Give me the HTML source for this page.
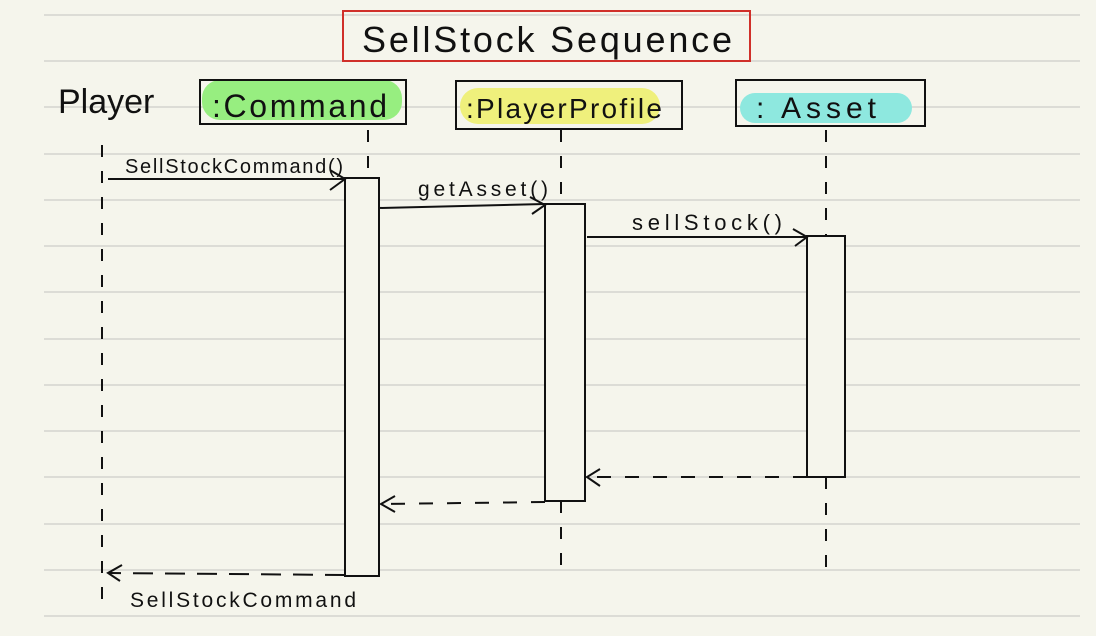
<!DOCTYPE html>
<html><head><style>
html,body{margin:0;padding:0;background:#f5f5ec;}
svg{display:block}
text{font-family:"Liberation Sans",sans-serif;fill:#111}
</style></head><body>
<svg width="1096" height="636" viewBox="0 0 1096 636" xmlns="http://www.w3.org/2000/svg">
<rect width="1096" height="636" fill="#f5f5ec"/>
<g stroke="#dcdcd6" stroke-width="2">
<line x1="44" y1="15" x2="1080" y2="15"/>
<line x1="44" y1="61" x2="1080" y2="61"/>
<line x1="44" y1="107" x2="1080" y2="107"/>
<line x1="44" y1="154" x2="1080" y2="154"/>
<line x1="44" y1="200" x2="1080" y2="200"/>
<line x1="44" y1="246" x2="1080" y2="246"/>
<line x1="44" y1="292" x2="1080" y2="292"/>
<line x1="44" y1="339" x2="1080" y2="339"/>
<line x1="44" y1="385" x2="1080" y2="385"/>
<line x1="44" y1="431" x2="1080" y2="431"/>
<line x1="44" y1="477" x2="1080" y2="477"/>
<line x1="44" y1="524" x2="1080" y2="524"/>
<line x1="44" y1="570" x2="1080" y2="570"/>
<line x1="44" y1="616" x2="1080" y2="616"/>
</g>
<!-- title -->
<rect x="343" y="11" width="407" height="50" fill="none" stroke="#d0302a" stroke-width="2"/>
<text x="362" y="52" font-size="36" textLength="370">SellStock Sequence</text>
<!-- Player -->
<text x="58" y="113" font-size="34">Player</text>
<!-- Command -->
<rect x="202" y="80" width="200" height="40" rx="18" fill="#97ee80"/>
<rect x="200" y="80" width="206" height="44" fill="none" stroke="#111" stroke-width="2"/>
<text x="212" y="117" font-size="32" textLength="175">:Command</text>
<!-- PlayerProfile -->
<rect x="460" y="88" width="200" height="36" rx="18" fill="#eff07c"/>
<rect x="456" y="81" width="226" height="48" fill="none" stroke="#111" stroke-width="2"/>
<text x="466" y="118" font-size="28" textLength="196">:PlayerProfile</text>
<!-- Asset -->
<rect x="740" y="93" width="172" height="30" rx="15" fill="#8ee8df"/>
<rect x="736" y="80" width="189" height="46" fill="none" stroke="#111" stroke-width="2"/>
<text x="756" y="118" font-size="30" textLength="120">: Asset</text>
<!-- lifelines -->
<g stroke="#111" stroke-width="2" stroke-dasharray="12 14" fill="none">
<line x1="102" y1="145" x2="102" y2="600"/>
<line x1="368" y1="130" x2="368" y2="178"/>
<line x1="561" y1="130" x2="561" y2="204"/>
<line x1="561" y1="501" x2="561" y2="572"/>
<line x1="826" y1="130" x2="826" y2="236"/>
<line x1="826" y1="477" x2="826" y2="572"/>
</g>
<!-- activations -->
<g stroke="#111" stroke-width="2" fill="#f5f5ec">
<rect x="345" y="178" width="34" height="398"/>
<rect x="545" y="204" width="40" height="297"/>
<rect x="807" y="236" width="38" height="241"/>
</g>
<!-- messages -->
<g stroke="#111" stroke-width="2" fill="none">
<line x1="108" y1="179" x2="345" y2="179"/>
<polyline points="330,170 345,179 330,190"/>
<line x1="379" y1="208" x2="545" y2="204"/>
<polyline points="530,197 545,205 532,214"/>
<line x1="587" y1="237" x2="807" y2="237"/>
<polyline points="793,229 807,237 795,246"/>
<line x1="807" y1="477" x2="590" y2="477" stroke-dasharray="14 14"/>
<polyline points="600,469 587,477 600,486"/>
<line x1="545" y1="502" x2="383" y2="504" stroke-dasharray="14 14"/>
<polyline points="395,496 381,504 395,512"/>
<line x1="345" y1="575" x2="110" y2="573" stroke-dasharray="20 12"/>
<polyline points="122,565 108,573 120,581"/>
</g>
<text x="125" y="173" font-size="20" textLength="218">SellStockCommand()</text>
<text x="418" y="196" font-size="21" textLength="130">getAsset()</text>
<text x="632" y="230" font-size="22" textLength="150">sellStock()</text>
<text x="130" y="607" font-size="21" textLength="226">SellStockCommand</text>
</svg>
</body></html>
